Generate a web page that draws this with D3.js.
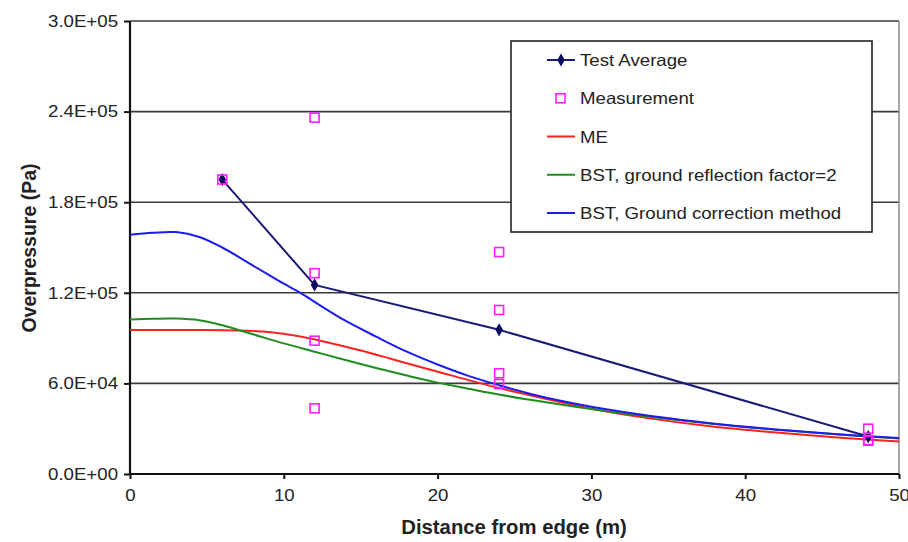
<!DOCTYPE html>
<html>
<head>
<meta charset="utf-8">
<script src="https://cdn.jsdelivr.net/npm/d3@7"></script>
<style>
  body { margin: 0; background: #fff; }
  text { font-family: "Liberation Sans", Arial, sans-serif; fill: #222; }
</style>
</head>
<body>
<svg width="908" height="542"></svg>
<script>
// measured values (x in m, overpressure in Pa)
const avgX = [6, 12, 24, 48];
const avgY = [195000, 125200, 95500, 24800];

const measX = [6, 12, 12, 12, 12, 24, 24, 24, 24, 48, 48, 48];
const measY = [195000, 236000, 133000, 88300, 43500, 147000, 108600, 66700, 59600, 30000, 22500, 22000];

// model curves
const meX = [0, 4, 7, 9, 11, 13, 15, 17, 19, 21, 23, 25, 27, 30, 34, 38, 42, 46, 50];
const meY = [95400, 95400, 95100, 94000, 91200, 86800, 81800, 76200, 70500, 65000, 59500, 54500, 49800, 43200, 36500, 31300, 27500, 24200, 21500];

const bstX = [0, 1.5, 3, 4.5, 6, 8, 10, 12, 14, 16, 18, 20, 22, 24, 26, 28, 31, 35, 40, 45, 50];
const bstY = [102400, 102800, 102900, 101800, 98500, 92500, 86500, 81000, 75500, 70200, 65200, 60500, 56500, 52600, 49200, 46000, 41600, 36500, 31200, 27000, 23500];

const gcX = [0, 1.5, 3, 4.5, 6, 8, 10, 11, 12, 14, 16, 18, 20, 22, 24, 26, 28, 30, 34, 38, 42, 46, 50];
const gcY = [158500, 159800, 160200, 157000, 150000, 138000, 126000, 120500, 114000, 101500, 91000, 81000, 72500, 65000, 58800, 53200, 48500, 44500, 38200, 33300, 29500, 26300, 23800];

const xTicks = [0, 10, 20, 30, 40, 50];
const yTicks = [0, 60000, 120000, 180000, 240000, 300000];
const yTickLabels = ['0.0E+00', '6.0E+04', '1.2E+05', '1.8E+05', '2.4E+05', '3.0E+05'];

const seriesNames = ['Test Average', 'Measurement', 'ME', 'BST, ground reflection factor=2', 'BST, Ground correction method'];

const svg = d3.select('svg');
const mLeft = 130, mRight = 899, mTop = 21, mBottom = 474;

// the source picture is a bit wider than tall, so text gets stretched sideways
function stretch(sel, k) {
  sel.each(function () {
    const w = this.getComputedTextLength();
    d3.select(this).attr('textLength', w * k).attr('lengthAdjust', 'spacingAndGlyphs');
  });
}

const x = d3.scaleLinear().domain([0, 50]).range([mLeft, mRight]);
const y = d3.scaleLinear().domain([0, 300000]).range([mBottom, mTop]);

// gridlines
svg.append('g').selectAll('line').data(yTicks.slice(1))
  .enter().append('line')
  .attr('x1', mLeft).attr('x2', mRight)
  .attr('y1', d => y(d)).attr('y2', d => y(d))
  .attr('stroke', '#3a3a3a').attr('stroke-width', 1.6);

// right border
svg.append('line')
  .attr('x1', mRight).attr('x2', mRight).attr('y1', mTop).attr('y2', mBottom)
  .attr('stroke', '#8a8a8a').attr('stroke-width', 1.5);

const yAxis = svg.append('g')
  .attr('transform', `translate(${mLeft},0)`)
  .call(d3.axisLeft(y).tickValues(yTicks).tickSize(6).tickPadding(6)
    .tickFormat((d, i) => yTickLabels[i]));

const xAxis = svg.append('g')
  .attr('transform', `translate(0,${mBottom})`)
  .call(d3.axisBottom(x).tickValues(xTicks).tickSize(5).tickPadding(10));

[yAxis, xAxis].forEach(a => {
  a.select('.domain').attr('stroke', '#111').attr('stroke-width', 2.2);
  a.selectAll('.tick line').attr('stroke', '#111').attr('stroke-width', 2);
  a.selectAll('.tick text')
    .style('font-family', '"Liberation Sans", Arial, sans-serif')
    .style('font-size', '16.5px').attr('fill', '#333')
    .call(stretch, 1.13);
});
xAxis.select('.domain').attr('d', `M${mLeft},0H${mRight}`);
yAxis.select('.domain').attr('d', `M0,${mBottom}V${mTop}`);

// axis titles
svg.append('text')
  .attr('x', 514).attr('y', 534)
  .attr('text-anchor', 'middle')
  .style('font-size', '19.5px').style('font-weight', 'bold')
  .text('Distance from edge (m)')
  .call(stretch, 1.04);

svg.append('text')
  .attr('transform', 'translate(36,248) rotate(-90)')
  .attr('text-anchor', 'middle')
  .style('font-size', '19.5px').style('font-weight', 'bold')
  .text('Overpressure (Pa)');

const line = d3.line()
  .x(d => x(d[0]))
  .y(d => y(d[1]))
  .curve(d3.curveCatmullRom.alpha(0.5));

const curves = [
  { xs: meX, ys: meY, color: '#ff2020' },
  { xs: bstX, ys: bstY, color: '#1f8c1f' },
  { xs: gcX, ys: gcY, color: '#1c1cf0' }
];

svg.append('g').selectAll('path').data(curves)
  .enter().append('path')
  .attr('d', c => line(d3.zip(c.xs, c.ys)))
  .attr('fill', 'none')
  .attr('stroke', c => c.color)
  .attr('stroke-width', 2);

// test average
const navy = '#1a1a78';
svg.append('path')
  .attr('d', d3.line().x(d => x(d[0])).y(d => y(d[1]))(d3.zip(avgX, avgY)))
  .attr('fill', 'none')
  .attr('stroke', navy)
  .attr('stroke-width', 2);

const diamond = d3.symbol().type(d3.symbolDiamond).size(50);
svg.append('g').selectAll('path').data(d3.zip(avgX, avgY))
  .enter().append('path')
  .attr('transform', d => `translate(${x(d[0])},${y(d[1])})`)
  .attr('d', diamond)
  .attr('fill', '#0a0a60');

// measurements
svg.append('g').selectAll('rect').data(d3.zip(measX, measY))
  .enter().append('rect')
  .attr('x', d => x(d[0]) - 4.5)
  .attr('y', d => y(d[1]) - 4.5)
  .attr('width', 9).attr('height', 9)
  .attr('fill', 'none')
  .attr('stroke', '#ff1aff')
  .attr('stroke-width', 1.6);

// legend
const lg = svg.append('g');
lg.append('rect')
  .attr('x', 511).attr('y', 41).attr('width', 361).attr('height', 191)
  .attr('fill', '#fff').attr('stroke', '#222').attr('stroke-width', 1.6);

const legendColors = [navy, '#ff1aff', '#ff2020', '#1f8c1f', '#1c1cf0'];
const ly = d3.scalePoint().domain(seriesNames).range([60, 213]);

seriesNames.forEach((name, i) => {
  const yy = ly(name);
  if (i === 1) {
    lg.append('rect')
      .attr('x', 556).attr('y', yy - 4.5).attr('width', 9).attr('height', 9)
      .attr('fill', 'none').attr('stroke', legendColors[i]).attr('stroke-width', 1.6);
  } else {
    lg.append('line')
      .attr('x1', 547).attr('x2', 575).attr('y1', yy).attr('y2', yy)
      .attr('stroke', legendColors[i]).attr('stroke-width', 2);
    if (i === 0) {
      lg.append('path')
        .attr('transform', `translate(561,${yy})`)
        .attr('d', diamond).attr('fill', '#0a0a60');
    }
  }
  lg.append('text')
    .attr('x', 580).attr('y', yy + 6)
    .style('font-size', '16.5px')
    .text(name)
    .call(stretch, 1.13);
});
</script>
</body>
</html>
